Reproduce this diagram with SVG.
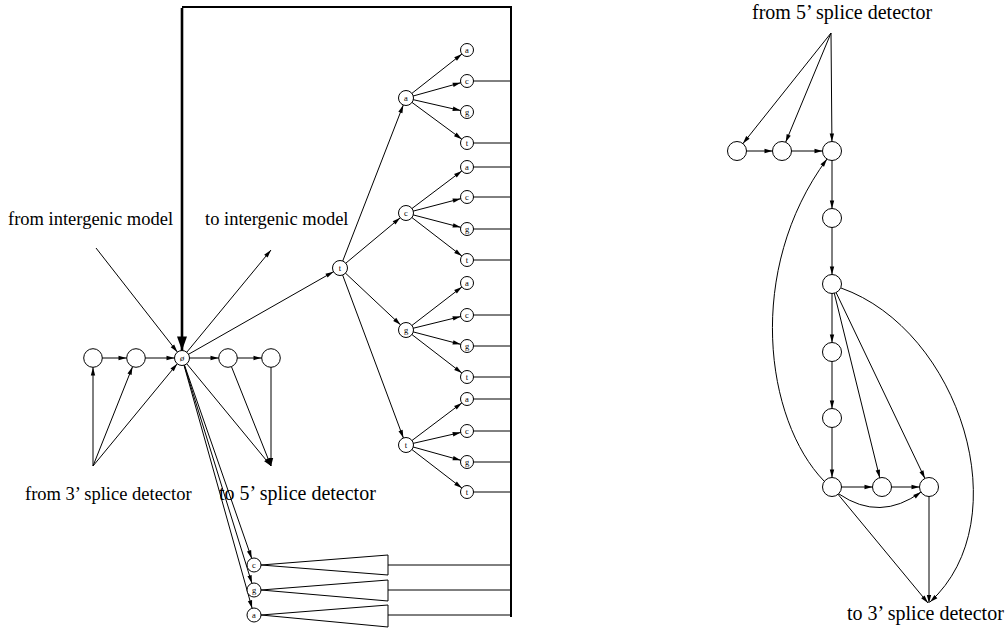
<svg xmlns="http://www.w3.org/2000/svg" width="1008" height="630" viewBox="0 0 1008 630">
  <style>
    .ln { fill: none; stroke: #000; stroke-width: 1; }
    .frame { fill: none; stroke: #000; stroke-width: 2; }
    .thick { fill: none; stroke: #000; stroke-width: 2.6; }
    .nd { fill: #fff; stroke: #000; stroke-width: 1; }
    .tri { fill: #fff; stroke: #000; stroke-width: 1; }
    .lbl { font-family: "Liberation Serif", "Times New Roman", serif; font-size: 18.5px; fill: #000; }
    .big { font-size: 20px; }
    .sm { font-family: "Liberation Serif", "Times New Roman", serif; font-size: 8.5px; fill: #000; text-anchor: middle; }
  </style>
  <defs>
    <!-- arrowheads; refX pulls the tip back to the rim of the target circle -->
    <marker id="ah0" markerUnits="userSpaceOnUse" markerWidth="10" markerHeight="6" refX="8" refY="3" orient="auto" overflow="visible"><path d="M0,0.8 L8,3 L0,5.2 z"/></marker>
    <marker id="ah65" markerUnits="userSpaceOnUse" markerWidth="10" markerHeight="6" refX="14.5" refY="3" orient="auto" overflow="visible"><path d="M0,0.8 L8,3 L0,5.2 z"/></marker>
    <marker id="ah7" markerUnits="userSpaceOnUse" markerWidth="10" markerHeight="6" refX="15" refY="3" orient="auto" overflow="visible"><path d="M0,0.8 L8,3 L0,5.2 z"/></marker>
    <marker id="ah75" markerUnits="userSpaceOnUse" markerWidth="10" markerHeight="6" refX="15.5" refY="3" orient="auto" overflow="visible"><path d="M0,0.8 L8,3 L0,5.2 z"/></marker>
    <marker id="ah95" markerUnits="userSpaceOnUse" markerWidth="10" markerHeight="6" refX="17.5" refY="3" orient="auto" overflow="visible"><path d="M0,0.8 L8,3 L0,5.2 z"/></marker>
    <marker id="ahBig" markerUnits="userSpaceOnUse" markerWidth="15" markerHeight="10" refX="21.5" refY="5" orient="auto" overflow="visible"><path d="M0,0 L14,5 L0,10 z"/></marker>
  </defs>

  <!-- ===================== connectors ===================== -->
  <g id="connectors">
    <!-- loop back into the start state -->
    <path class="frame" d="M182,7 H511 V617"/>
    <line class="thick" x1="182" y1="8" x2="182" y2="358" marker-end="url(#ahBig)"/>

    <!-- left chain -->
    <line class="ln" x1="93" y1="358" x2="136" y2="358" marker-end="url(#ah95)"/>
    <line class="ln" x1="136" y1="358" x2="182" y2="358" marker-end="url(#ah75)"/>
    <line class="ln" x1="182" y1="358" x2="228" y2="358" marker-end="url(#ah95)"/>
    <line class="ln" x1="228" y1="358" x2="271" y2="358" marker-end="url(#ah95)"/>

    <!-- from 3' splice detector -->
    <line class="ln" x1="93" y1="466" x2="93" y2="358" marker-end="url(#ah95)"/>
    <line class="ln" x1="93" y1="466" x2="136" y2="358" marker-end="url(#ah95)"/>
    <line class="ln" x1="93" y1="466" x2="182" y2="358" marker-end="url(#ah75)"/>

    <!-- to 5' splice detector -->
    <line class="ln" x1="182" y1="358" x2="271" y2="466" marker-end="url(#ah0)"/>
    <line class="ln" x1="228" y1="358" x2="271" y2="466" marker-end="url(#ah0)"/>
    <line class="ln" x1="271" y1="358" x2="271" y2="466" marker-end="url(#ah0)"/>

    <!-- intergenic model -->
    <line class="ln" x1="96" y1="248" x2="182" y2="358" marker-end="url(#ah75)"/>
    <line class="ln" x1="182" y1="358" x2="271" y2="250" marker-end="url(#ah0)"/>

    <!-- start state into the codon tree -->
    <line class="ln" x1="182" y1="358" x2="340" y2="268" marker-end="url(#ah75)"/>

    <!-- start state to single-base states -->
    <line class="ln" x1="182" y1="358" x2="254" y2="565" marker-end="url(#ah7)"/>
    <line class="ln" x1="182" y1="358" x2="254" y2="590" marker-end="url(#ah7)"/>
    <line class="ln" x1="182" y1="358" x2="254" y2="615" marker-end="url(#ah7)"/>

    <!-- tree level 1 -->
    <line class="ln" x1="340" y1="268" x2="406" y2="98" marker-end="url(#ah75)"/>
    <line class="ln" x1="340" y1="268" x2="406" y2="213" marker-end="url(#ah75)"/>
    <line class="ln" x1="340" y1="268" x2="406" y2="330" marker-end="url(#ah75)"/>
    <line class="ln" x1="340" y1="268" x2="406" y2="445" marker-end="url(#ah75)"/>

    <!-- tree level 2 -->
    <line class="ln" x1="406" y1="98" x2="467" y2="50" marker-end="url(#ah65)"/>
    <line class="ln" x1="406" y1="98" x2="467" y2="81" marker-end="url(#ah65)"/>
    <line class="ln" x1="406" y1="98" x2="467" y2="112" marker-end="url(#ah65)"/>
    <line class="ln" x1="406" y1="98" x2="467" y2="143" marker-end="url(#ah65)"/>

    <line class="ln" x1="406" y1="213" x2="467" y2="167" marker-end="url(#ah65)"/>
    <line class="ln" x1="406" y1="213" x2="467" y2="197" marker-end="url(#ah65)"/>
    <line class="ln" x1="406" y1="213" x2="467" y2="229" marker-end="url(#ah65)"/>
    <line class="ln" x1="406" y1="213" x2="467" y2="260" marker-end="url(#ah65)"/>

    <line class="ln" x1="406" y1="330" x2="467" y2="283" marker-end="url(#ah65)"/>
    <line class="ln" x1="406" y1="330" x2="467" y2="315" marker-end="url(#ah65)"/>
    <line class="ln" x1="406" y1="330" x2="467" y2="346" marker-end="url(#ah65)"/>
    <line class="ln" x1="406" y1="330" x2="467" y2="377" marker-end="url(#ah65)"/>

    <line class="ln" x1="406" y1="445" x2="467" y2="399" marker-end="url(#ah65)"/>
    <line class="ln" x1="406" y1="445" x2="467" y2="431" marker-end="url(#ah65)"/>
    <line class="ln" x1="406" y1="445" x2="467" y2="462" marker-end="url(#ah65)"/>
    <line class="ln" x1="406" y1="445" x2="467" y2="492" marker-end="url(#ah65)"/>

    <!-- leaves feeding the loop-back bus -->
    <path class="ln" d="M467,81 H511 M467,143 H511 M467,167 H511 M467,197 H511 M467,229 H511 M467,260 H511 M467,315 H511 M467,346 H511 M467,377 H511 M467,399 H511 M467,431 H511 M467,462 H511 M467,492 H511"/>
    <path class="ln" d="M388,565 H511 M388,590 H511 M388,615 H511"/>

    <!-- right model: entry -->
    <line class="ln" x1="831" y1="33" x2="737" y2="151" marker-end="url(#ah95)"/>
    <line class="ln" x1="831" y1="33" x2="782" y2="151" marker-end="url(#ah95)"/>
    <line class="ln" x1="831" y1="33" x2="832" y2="151" marker-end="url(#ah95)"/>
    <line class="ln" x1="737" y1="151" x2="782" y2="151" marker-end="url(#ah95)"/>
    <line class="ln" x1="782" y1="151" x2="832" y2="151" marker-end="url(#ah95)"/>

    <!-- right model: main column -->
    <line class="ln" x1="832" y1="151" x2="832" y2="218" marker-end="url(#ah95)"/>
    <line class="ln" x1="832" y1="218" x2="832" y2="284" marker-end="url(#ah95)"/>
    <line class="ln" x1="832" y1="284" x2="832" y2="352" marker-end="url(#ah95)"/>
    <line class="ln" x1="832" y1="352" x2="832" y2="418" marker-end="url(#ah95)"/>
    <line class="ln" x1="832" y1="418" x2="832" y2="487" marker-end="url(#ah95)"/>
    <line class="ln" x1="832" y1="487" x2="882" y2="487" marker-end="url(#ah95)"/>
    <line class="ln" x1="882" y1="487" x2="929" y2="487" marker-end="url(#ah95)"/>

    <!-- right model: skips -->
    <line class="ln" x1="832" y1="284" x2="882" y2="487" marker-end="url(#ah95)"/>
    <line class="ln" x1="832" y1="284" x2="929" y2="487" marker-end="url(#ah95)"/>
    <path class="ln" d="M839,494 Q880,522 921,492" marker-end="url(#ah0)"/>
    <path class="ln" d="M824,481 C765,420 745,270 827,159" marker-end="url(#ah0)"/>

    <!-- right model: exit -->
    <path class="ln" d="M841,288 C960,330 1020,520 930,602" marker-end="url(#ah0)"/>
    <line class="ln" x1="832" y1="487" x2="928" y2="603" marker-end="url(#ah0)"/>
    <line class="ln" x1="929" y1="487" x2="929" y2="603" marker-end="url(#ah0)"/>
  </g>

  <!-- ===================== left model nodes ===================== -->
  <g id="n-l1"><circle class="nd" cx="93" cy="358" r="9.3"/></g>
  <g id="n-l2"><circle class="nd" cx="136" cy="358" r="9.3"/></g>
  <g id="n-start"><circle class="nd" cx="182" cy="358" r="7.5"/><text class="sm" x="182" y="361" font-style="italic">ø</text></g>
  <g id="n-r1"><circle class="nd" cx="228" cy="358" r="9.3"/></g>
  <g id="n-r2"><circle class="nd" cx="271" cy="358" r="9.3"/></g>

  <g id="n-t"><circle class="nd" cx="340" cy="268" r="7.5"/><text class="sm" x="340" y="271">t</text></g>

  <g id="n-ta"><circle class="nd" cx="406" cy="98" r="7.5"/><text class="sm" x="406" y="101">a</text></g>
  <g id="n-tc"><circle class="nd" cx="406" cy="213" r="7.5"/><text class="sm" x="406" y="216">c</text></g>
  <g id="n-tg"><circle class="nd" cx="406" cy="330" r="7.5"/><text class="sm" x="406" y="333">g</text></g>
  <g id="n-tt"><circle class="nd" cx="406" cy="445" r="7.5"/><text class="sm" x="406" y="448">t</text></g>

  <g id="n-taa"><circle class="nd" cx="467" cy="50" r="6.5"/><text class="sm" x="467" y="53">a</text></g>
  <g id="n-tac"><circle class="nd" cx="467" cy="81" r="6.5"/><text class="sm" x="467" y="84">c</text></g>
  <g id="n-tag"><circle class="nd" cx="467" cy="112" r="6.5"/><text class="sm" x="467" y="115">g</text></g>
  <g id="n-tat"><circle class="nd" cx="467" cy="143" r="6.5"/><text class="sm" x="467" y="146">t</text></g>

  <g id="n-tca"><circle class="nd" cx="467" cy="167" r="6.5"/><text class="sm" x="467" y="170">a</text></g>
  <g id="n-tcc"><circle class="nd" cx="467" cy="197" r="6.5"/><text class="sm" x="467" y="200">c</text></g>
  <g id="n-tcg"><circle class="nd" cx="467" cy="229" r="6.5"/><text class="sm" x="467" y="232">g</text></g>
  <g id="n-tct"><circle class="nd" cx="467" cy="260" r="6.5"/><text class="sm" x="467" y="263">t</text></g>

  <g id="n-tga"><circle class="nd" cx="467" cy="283" r="6.5"/><text class="sm" x="467" y="286">a</text></g>
  <g id="n-tgc"><circle class="nd" cx="467" cy="315" r="6.5"/><text class="sm" x="467" y="318">c</text></g>
  <g id="n-tgg"><circle class="nd" cx="467" cy="346" r="6.5"/><text class="sm" x="467" y="349">g</text></g>
  <g id="n-tgt"><circle class="nd" cx="467" cy="377" r="6.5"/><text class="sm" x="467" y="380">t</text></g>

  <g id="n-tta"><circle class="nd" cx="467" cy="399" r="6.5"/><text class="sm" x="467" y="402">a</text></g>
  <g id="n-ttc"><circle class="nd" cx="467" cy="431" r="6.5"/><text class="sm" x="467" y="434">c</text></g>
  <g id="n-ttg"><circle class="nd" cx="467" cy="462" r="6.5"/><text class="sm" x="467" y="465">g</text></g>
  <g id="n-ttt"><circle class="nd" cx="467" cy="492" r="6.5"/><text class="sm" x="467" y="495">t</text></g>

  <!-- single-base states with their length wedges -->
  <g id="n-c"><polygon class="tri" points="261,565 388,555 388,575"/><circle class="nd" cx="254" cy="565" r="7"/><text class="sm" x="254" y="568">c</text></g>
  <g id="n-g"><polygon class="tri" points="261,590 388,580 388,601"/><circle class="nd" cx="254" cy="590" r="7"/><text class="sm" x="254" y="593">g</text></g>
  <g id="n-a"><polygon class="tri" points="261,615 388,605 388,627"/><circle class="nd" cx="254" cy="615" r="7"/><text class="sm" x="254" y="618">a</text></g>

  <!-- ===================== right model nodes ===================== -->
  <g id="n-A"><circle class="nd" cx="737" cy="151" r="9.5"/></g>
  <g id="n-B"><circle class="nd" cx="782" cy="151" r="9.5"/></g>
  <g id="n-C"><circle class="nd" cx="832" cy="151" r="9.5"/></g>
  <g id="n-D"><circle class="nd" cx="832" cy="218" r="9.5"/></g>
  <g id="n-E"><circle class="nd" cx="832" cy="284" r="9.5"/></g>
  <g id="n-F"><circle class="nd" cx="832" cy="352" r="9.5"/></g>
  <g id="n-G"><circle class="nd" cx="832" cy="418" r="9.5"/></g>
  <g id="n-H"><circle class="nd" cx="832" cy="487" r="9.5"/></g>
  <g id="n-I"><circle class="nd" cx="882" cy="487" r="9.5"/></g>
  <g id="n-J"><circle class="nd" cx="929" cy="487" r="9.5"/></g>

  <!-- ===================== labels ===================== -->
  <g id="labels">
    <text class="lbl" x="8" y="225">from intergenic model</text>
    <text class="lbl" x="205" y="225">to intergenic model</text>
    <text class="lbl" x="25" y="500" font-size="19px">from 3’ splice detector</text>
    <text class="lbl big" x="219" y="500">to 5’ splice detector</text>
    <text class="lbl big" x="752" y="19">from 5’ splice detector</text>
    <text class="lbl big" x="847" y="620">to 3’ splice detector</text>
  </g>
</svg>
